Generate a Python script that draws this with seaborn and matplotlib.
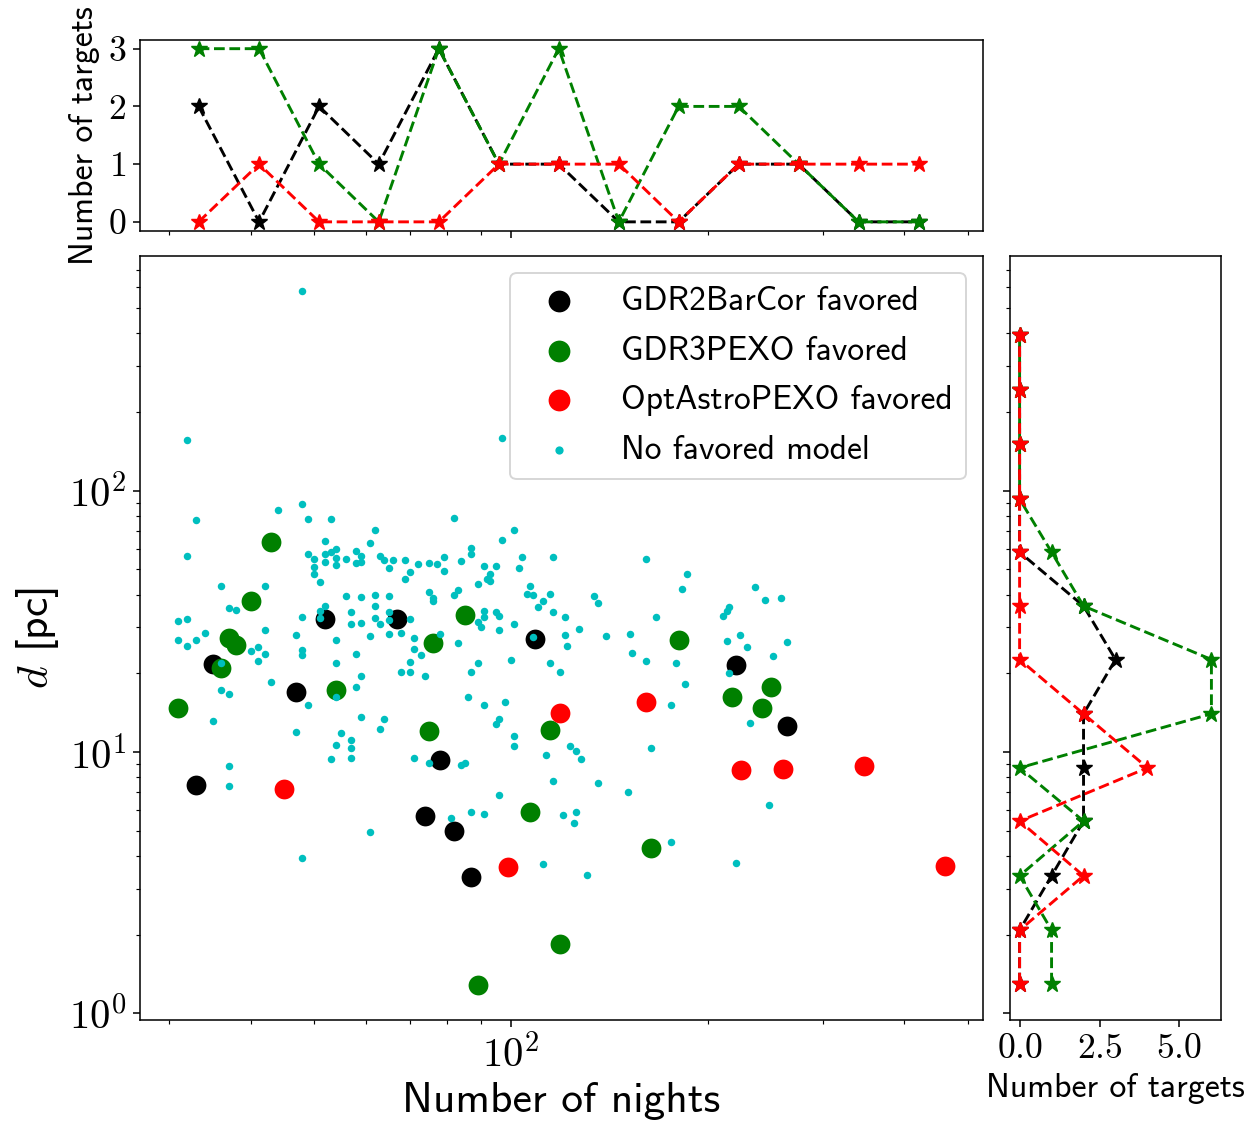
import matplotlib
matplotlib.use("Agg")
import matplotlib.pyplot as plt
import seaborn as sns

# ---------------- data ----------------
black_nights = [35, 33, 52, 47, 67, 78, 74, 82, 87, 109, 221, 265]
black_dist = [21.8, 7.46, 32.3, 16.9, 32.2, 9.30, 5.71, 5.00, 3.33, 27.1, 21.6, 12.6]

green_nights = [43, 40, 37, 38, 36, 31, 54, 85, 76, 75, 115, 107, 164, 119, 89, 181, 218, 242, 250]
green_dist = [63.7, 37.8, 27.4, 25.6, 21.0, 14.8, 17.3, 33.5, 26.1, 12.0, 12.1, 5.90, 4.31, 1.84, 1.28,
              26.9, 16.2, 14.7, 17.8]

red_nights = [45, 99, 119, 161, 225, 261, 347, 461]
red_dist = [7.22, 3.64, 14.1, 15.6, 8.52, 8.59, 8.85, 3.66]

cyan_nights = [33, 44, 48, 49, 53, 32, 52, 49, 50, 52, 53, 54, 54, 52, 54, 56, 58, 59, 59, 58,
               61, 50, 50, 51, 36, 42, 56, 59, 37, 38, 52, 51, 51, 48, 57, 57, 59, 31, 32, 42,
               34, 31, 33, 32, 47, 54, 61, 41, 40, 42, 41, 48, 48, 58, 54, 36, 59, 43,
               82, 62, 101, 97, 87, 87, 63, 64, 66, 65, 69, 72, 75, 77, 79, 79, 84, 70, 69,
               91, 95, 93, 92, 93, 104, 103, 116, 89, 75, 76, 76, 83, 82, 107, 106, 108, 115,
               112, 110, 62, 65, 62, 65, 62, 65, 63, 70, 91, 91, 95, 96, 89, 90, 101, 96, 116,
               121, 127, 121, 122, 65, 68, 71, 71, 73, 78, 83, 70, 68, 70, 74, 89, 87, 100,
               115, 119, 108,
               161, 186, 183, 236, 245, 259, 134, 136, 216, 214, 211, 167, 140, 152, 153, 161,
               179, 214, 224, 230, 252, 265, 216,
               36, 37, 49, 54, 58, 59, 35, 47, 55, 57, 57, 54, 53, 57, 37, 37, 61, 48,
               86, 91, 98, 64, 63, 96, 95, 101, 101, 123, 126, 128, 113, 71, 75, 85, 84, 116,
               96, 87, 91, 81, 120, 126, 125, 112, 131,
               185, 176, 232, 164, 136, 151, 248, 176, 221,
               48, 32, 97]
cyan_dist = [77.6, 84.3, 88.6, 77.9, 78.3, 56.3, 64.5, 57.5, 54.7, 57.3, 58.5, 59.8, 55.2, 53.3,
             52.0, 54.9, 59.0, 56.3, 53.6, 52.8, 63.0, 51.0, 48.2, 44.7, 43.2, 43.2, 39.7, 39.1,
             35.6, 35.0, 36.3, 34.8, 32.6, 33.0, 34.2, 30.9, 31.3, 31.8, 32.3, 29.3, 28.6, 26.8,
             26.9, 25.4, 28.1, 26.9, 27.8, 25.3, 24.3, 23.7, 22.3, 24.6, 23.5, 23.8, 22.0, 22.0,
             19.6, 18.6,
             78.8, 71.0, 70.8, 64.7, 60.3, 57.3, 56.5, 54.4, 54.2, 50.4, 54.4, 52.5, 53.0, 52.4,
             55.8, 49.4, 54.0, 48.8, 46.0, 51.3, 51.3, 47.9, 45.9, 45.3, 55.7, 50.7, 56.0, 43.9,
             41.0, 39.0, 38.0, 41.6, 39.8, 43.2, 40.4, 39.8, 40.3, 37.8, 36.0, 39.8, 39.4, 36.2,
             34.4, 32.6, 32.0, 30.9, 32.2, 34.7, 32.9, 34.2, 33.3, 31.5, 30.2, 30.9, 29.3, 34.4,
             32.9, 29.7, 28.1, 25.4, 28.3, 28.6, 27.3, 24.9, 23.5, 28.4, 26.1, 22.1, 20.3, 20.3,
             19.6, 22.0, 20.3, 22.5, 21.9, 20.3, 27.5,
             55.0, 48.2, 42.0, 43.0, 38.2, 38.8, 39.4, 37.2, 35.9, 34.8, 33.2, 32.9, 27.8, 28.4,
             24.0, 22.4, 21.9, 26.7, 28.1, 25.3, 23.3, 26.3, 20.1,
             17.3, 16.7, 15.1, 16.3, 17.7, 13.6, 13.2, 11.9, 11.8, 11.1, 10.4, 10.6, 9.41, 9.47,
             8.82, 7.42, 4.96, 3.92,
             16.3, 15.1, 15.5, 13.4, 12.3, 13.4, 12.8, 11.5, 10.5, 10.5, 10.1, 9.38, 9.75, 9.47,
             9.08, 9.08, 8.90, 7.73, 6.85, 5.91, 5.78, 5.61, 5.74, 5.90, 5.37, 3.72, 3.37,
             18.2, 15.1, 12.9, 10.4, 7.62, 7.04, 6.29, 4.54, 3.77,
             583, 157, 159]

# top marginal: counts per bin of number of nights
top_centers = [33.3, 41.2, 50.9, 62.8, 77.6, 95.9, 118.4, 146.3, 180.6, 223.2, 275.6, 340.5, 420.6]
top_black = [2, 0, 2, 1, 3, 1, 1, 0, 0, 1, 1, 0, 0]
top_green = [3, 3, 1, 0, 3, 1, 3, 0, 2, 2, 1, 0, 0]
top_red = [0, 1, 0, 0, 0, 1, 1, 1, 0, 1, 1, 1, 1]

# right marginal: counts per bin of distance
right_centers = [1.30, 2.08, 3.36, 5.44, 8.70, 14.0, 22.6, 36.2, 58.2, 92.9, 151, 243, 395]
right_black = [0, 0, 1, 2, 2, 2, 3, 2, 0, 0, 0, 0, 0]
right_green = [1, 1, 0, 2, 0, 6, 6, 2, 1, 0, 0, 0, 0]
right_red = [0, 0, 2, 0, 4, 2, 0, 0, 0, 0, 0, 0, 0]

labels = ["GDR2BarCor favored", "GDR3PEXO favored", "OptAstroPEXO favored", "No favored model"]

# ---------------- style ----------------
plt.rcParams["font.family"] = "cmr10"
plt.rcParams["mathtext.fontset"] = "cm"
plt.rcParams["axes.unicode_minus"] = False
plt.rcParams["axes.formatter.use_mathtext"] = True
SANS = "cmss10"

DPI = 139.2
fig = plt.figure(figsize=(1253 / DPI, 1130 / DPI), dpi=DPI)
ax = fig.add_axes([0.11173, 0.09735, 0.67279, 0.67611])
ax.set_xscale("log")
ax.set_yscale("log")
ax_top = fig.add_axes([0.11173, 0.7960, 0.67279, 0.16858], sharex=ax)
ax_right = fig.add_axes([0.80607, 0.09735, 0.16840, 0.67611], sharey=ax)

# ---------------- main scatter ----------------
sns.scatterplot(x=black_nights, y=black_dist, color="k", s=105, linewidth=0, label=labels[0], ax=ax)
sns.scatterplot(x=green_nights, y=green_dist, color="green", s=105, linewidth=0, label=labels[1], ax=ax)
sns.scatterplot(x=red_nights, y=red_dist, color="red", s=105, linewidth=0, label=labels[2], ax=ax)
sns.scatterplot(x=cyan_nights, y=cyan_dist, color="c", s=15, linewidth=0, label=labels[3], ax=ax)

ax.legend(loc="upper right", prop={"family": SANS, "size": 17.4}, markerscale=1.1,
          handlelength=2.1, labelspacing=0.55)
ax.set_xlabel("Number of nights", fontfamily=SANS, fontsize=22.5)
ax.set_ylabel("$d$ [pc]", fontfamily=SANS, fontsize=22.5)
ax.tick_params(labelsize=21)

# ---------------- marginals ----------------
line_kw = dict(linestyle="--", marker="*", markersize=8.5, linewidth=1.5, sort=False, estimator=None)
for vals, col in [(top_black, "k"), (top_green, "green"), (top_red, "red")]:
    sns.lineplot(x=top_centers, y=vals, color=col, markeredgecolor=col, markerfacecolor=col,
                 ax=ax_top, **line_kw)
for vals, col in [(right_black, "k"), (right_green, "green"), (right_red, "red")]:
    sns.lineplot(x=vals, y=right_centers, color=col, markeredgecolor=col, markerfacecolor=col,
                 orient="y", ax=ax_right, **line_kw)

ax_top.set_yticks([0, 1, 2, 3])
ax_top.set_ylabel("Number of targets", fontfamily=SANS, fontsize=17.5)
ax_top.tick_params(labelbottom=False, labelsize=18.5)

ax_right.set_xticks([0, 2.5, 5.0])
ax_right.set_xlabel("Number of targets", fontfamily=SANS, fontsize=17.5)
ax_right.tick_params(labelleft=False, labelsize=18.5)

fig.savefig("out.png", dpi=DPI)
